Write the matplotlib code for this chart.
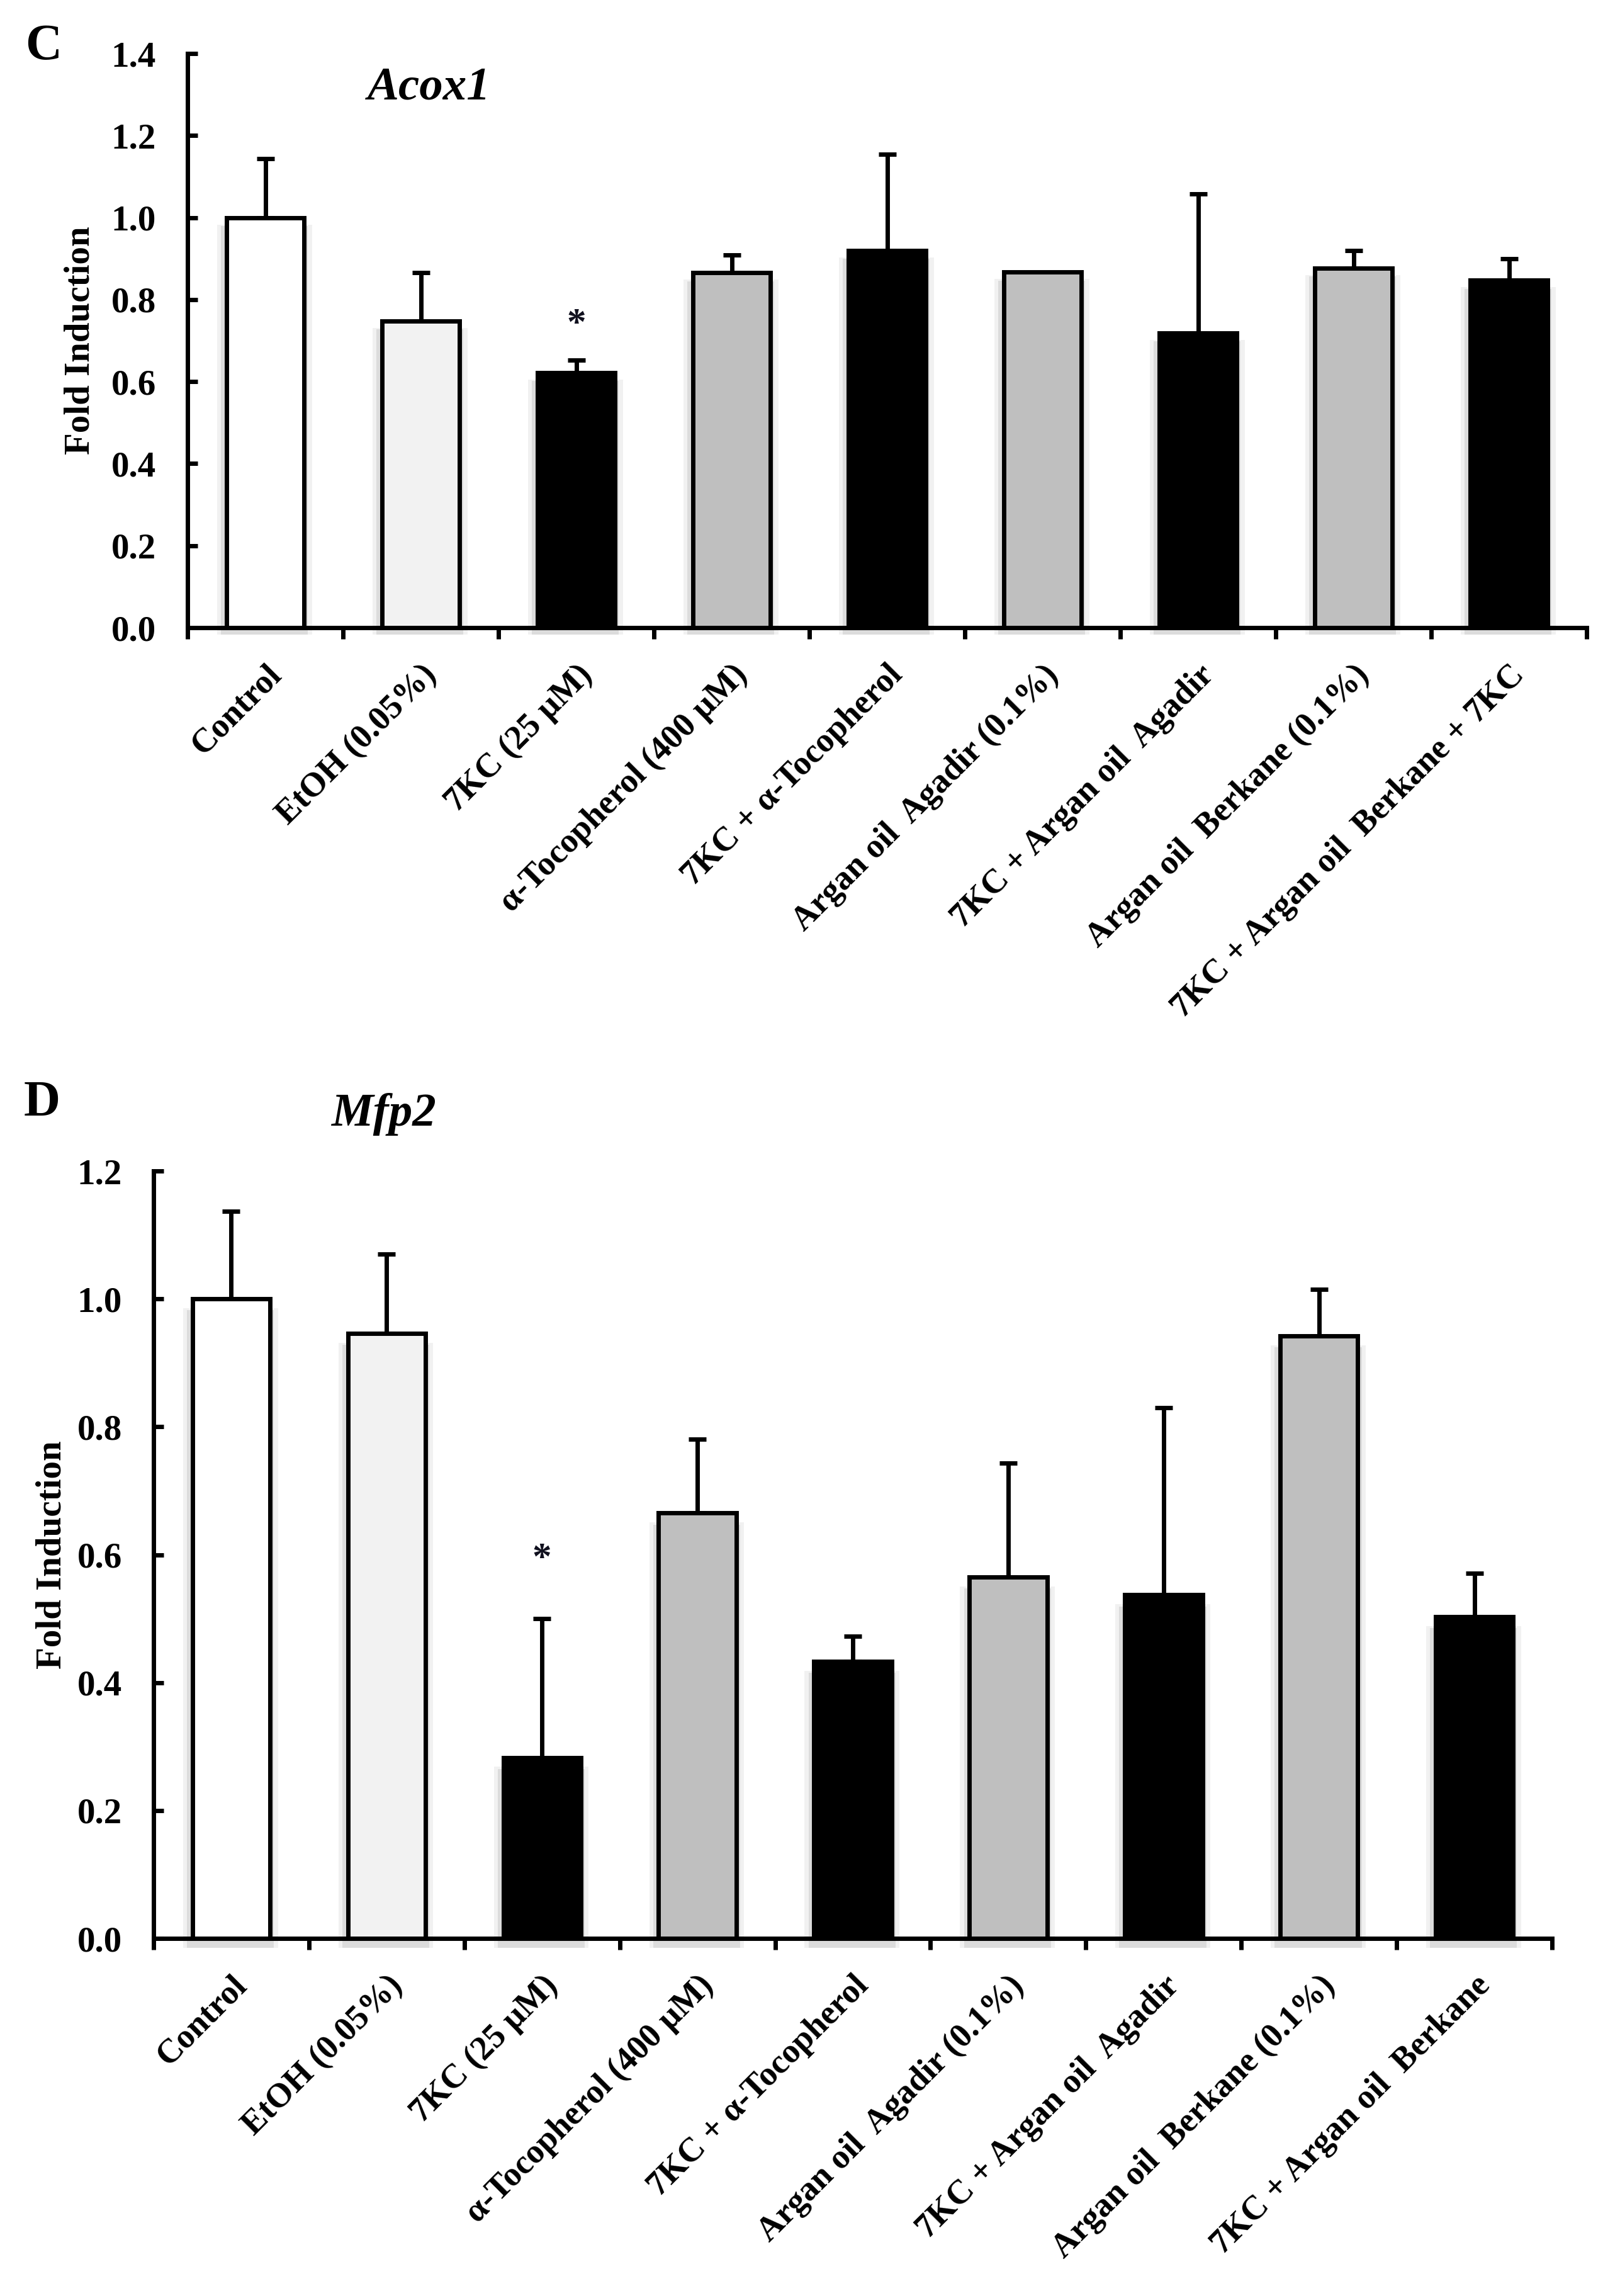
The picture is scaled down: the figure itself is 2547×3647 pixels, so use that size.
import numpy as np
import matplotlib.pyplot as plt

# categories (x tick labels) for both panels
labels_c = ['Control', 'EtOH (0.05%)', '7KC (25 µM)', 'α-Tocopherol (400 µM)',
            '7KC + α-Tocopherol', 'Argan oil  Agadir (0.1%)', '7KC + Argan oil  Agadir',
            'Argan oil  Berkane (0.1%)', '7KC + Argan oil  Berkane + 7KC']
labels_d = ['Control', 'EtOH (0.05%)', '7KC (25 µM)', 'α-Tocopherol (400 µM)',
            '7KC + α-Tocopherol', 'Argan oil  Agadir (0.1%)', '7KC + Argan oil  Agadir',
            'Argan oil  Berkane (0.1%)', '7KC + Argan oil  Berkane']

# panel C: Acox1 fold induction, upper error bars
acox1 = [1.0, 0.748, 0.622, 0.866, 0.920, 0.867, 0.719, 0.877, 0.847]
acox1_err = [0.144, 0.118, 0.030, 0.043, 0.234, 0.0, 0.339, 0.042, 0.052]

# panel D: Mfp2 fold induction, upper error bars
mfp2 = [1.0, 0.946, 0.283, 0.665, 0.433, 0.565, 0.537, 0.942, 0.503]
mfp2_err = [0.137, 0.124, 0.217, 0.116, 0.040, 0.178, 0.293, 0.073, 0.068]

# significance marks (category index, height)
star_c = (2, 0.756)
star_d = (2, 0.608)

bar_colors = ['white', '#f2f2f2', 'black', '#bfbfbf', 'black',
              '#bfbfbf', 'black', '#bfbfbf', 'black']

W, H = 2547, 3647
SERIF = ['Liberation Serif', 'DejaVu Serif']
plt.rcParams['font.family'] = SERIF
plt.rcParams['font.weight'] = 'bold'


def px(x, y):
    return x / W, 1 - y / H


def panel(ax, labels, vals, errs, ymax, star):
    x = np.arange(len(vals))
    vals = np.array(vals)
    errs = np.array(errs)
    sh = 0.012 * ymax
    # soft drop shadow
    ax.bar(x - 0.005, vals - 0.012 * ymax + sh, width=0.61, bottom=-sh,
           color='#f1f1f1', linewidth=0, zorder=1, clip_on=False)
    ax.bar(x - 0.005, vals - 0.015 * ymax + sh, width=0.56, bottom=-sh,
           color='#dcdcdc', linewidth=0, zorder=1, clip_on=False)
    ax.bar(x, vals, width=0.5, color=bar_colors, edgecolor='black',
           linewidth=5, zorder=2)
    m = errs > 0
    ax.errorbar(x[m], vals[m], yerr=[np.zeros(m.sum()), errs[m]], fmt='none',
                ecolor='black', elinewidth=5, capsize=10, capthick=5, zorder=1.5)
    # the '*' glyph sits high in its box, so nudge it down a little
    ax.text(star[0], star[1] - 0.013 * ymax, '*', ha='center', va='center',
            fontsize=44, color='#10101e', fontweight='bold')

    ax.set_xlim(-0.5, len(vals) - 0.5)
    ax.set_ylim(0, ymax)
    ax.set_yticks(np.arange(0, ymax + 0.001, 0.2))
    ax.set_yticklabels(['%.1f' % v for v in np.arange(0, ymax + 0.001, 0.2)])
    ax.set_xticks(x)
    ax.set_xticklabels(labels, rotation=45, ha='right', va='top',
                       rotation_mode='anchor')
    ax.set_xticks(np.arange(-0.5, len(vals)), minor=True)
    for s in ['top', 'right']:
        ax.spines[s].set_visible(False)
    for s in ['left', 'bottom']:
        ax.spines[s].set_linewidth(5)
    ax.tick_params(axis='x', which='major', length=0, pad=36, labelsize=39)
    ax.tick_params(axis='x', which='minor', length=13, width=5, direction='out')
    ax.tick_params(axis='y', direction='in', length=11.5, width=5, pad=36,
                   labelsize=41)
    for t in ax.get_xticklabels() + ax.get_yticklabels():
        t.set_fontweight('bold')


def main():
    fig = plt.figure(figsize=(W / 100, H / 100), dpi=100)

    ax1 = fig.add_axes([298 / W, 1 - 997 / H, 2223 / W, 912 / H])
    panel(ax1, labels_c, acox1, acox1_err, 1.4, star_c)

    ax2 = fig.add_axes([244 / W, 1 - 3079 / H, 2222 / W, 1219 / H])
    panel(ax2, labels_d, mfp2, mfp2_err, 1.2, star_d)

    # panel letters, gene titles and axis titles
    fig.text(*px(40, 94), 'C', fontsize=58, fontweight='bold')
    fig.text(*px(38, 1772), 'D', fontsize=58, fontweight='bold')
    fig.text(*px(682, 157), 'Acox1', fontsize=54, fontweight='bold',
             style='italic', ha='center', va='baseline')
    fig.text(*px(610, 1788), 'Mfp2', fontsize=54, fontweight='bold',
             style='italic', ha='center', va='baseline')
    fig.text(*px(128, 541), 'Fold Induction', fontsize=41, fontweight='bold',
             rotation=90, ha='center', va='center')
    fig.text(*px(83, 2470), 'Fold Induction', fontsize=41, fontweight='bold',
             rotation=90, ha='center', va='center')

    fig.savefig('out.png', dpi=100, facecolor='white')


if __name__ == '__main__':
    main()
